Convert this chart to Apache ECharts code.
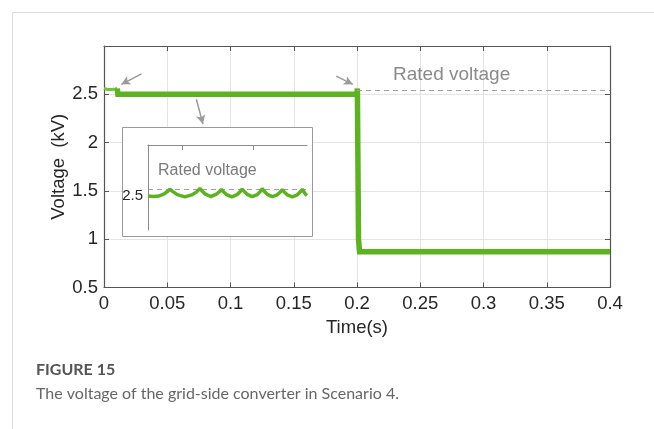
<!DOCTYPE html>
<html>
<head>
<meta charset="utf-8">
<script src="https://cdn.jsdelivr.net/npm/echarts@6/dist/echarts.min.js"></script>
<style>
  html, body { margin: 0; padding: 0; background: #fff; }
  #chart { width: 654px; height: 429px; }
</style>
</head>
<body>
<div id="chart"></div>
<script>
// Grid-side converter voltage, Scenario 4 (time in s, voltage in kV)
const xTicks = [0, 0.05, 0.1, 0.15, 0.2, 0.25, 0.3, 0.35, 0.4];
const yTicks = [0.5, 1, 1.5, 2, 2.5];

// start-up segment before the converter settles
const startTime = [0, 0.003, 0.006, 0.009, 0.0105];
const startVolt = [2.56, 2.55, 2.55, 2.555, 2.56];

// steady operation, then the voltage drop at t = 0.2 s
const mainTime = [0.0105, 0.011, 0.2, 0.2003, 0.2012, 0.202, 0.4];
const mainVolt = [2.56, 2.50, 2.50, 2.56, 1.0, 0.87, 0.87];

const ratedVoltage = 2.54;

// zoomed ripple of the steady voltage (inset)
const insetTime = [
  0.525, 0.60, 0.68, 0.75, 0.80, 0.83,
  0.872, 0.935, 1.04, 1.145, 1.208, 1.25,
  1.28, 1.325, 1.40, 1.475, 1.52, 1.55,
  1.579, 1.622, 1.695, 1.768, 1.811, 1.84,
  1.868, 1.91, 1.98, 2.05, 2.092, 2.12,
  2.148, 2.19, 2.26, 2.33, 2.372, 2.40,
  2.428, 2.47, 2.54, 2.61, 2.652, 2.68,
  2.70, 2.72, 2.745
];
const insetVolt = [
  2.500, 2.497, 2.500, 2.512, 2.528, 2.540,
  2.526, 2.508, 2.495, 2.508, 2.526, 2.545,
  2.529, 2.511, 2.497, 2.509, 2.525, 2.538,
  2.525, 2.508, 2.495, 2.508, 2.525, 2.540,
  2.527, 2.510, 2.496, 2.508, 2.526, 2.543,
  2.528, 2.510, 2.496, 2.507, 2.524, 2.537,
  2.524, 2.507, 2.495, 2.507, 2.525, 2.539,
  2.527, 2.512, 2.503
];

const green = '#5bb31f';
const axisColor = '#555';
const gridColor = '#e4e4e4';
const labelFont = { fontFamily: 'Liberation Sans', fontSize: 18.5, color: '#262626' };
const nameFont = { fontFamily: 'Liberation Sans', fontSize: 18.5, color: '#262626' };

const zip = (xs, ys) => xs.map((x, i) => [x, ys[i]]);

const arrows = [
  [[0.0296, 2.711], [0.0137, 2.603]],
  [[0.073, 2.449], [0.0782, 2.192]],
  [[0.1836, 2.688], [0.1967, 2.603]]
];

const chart = echarts.init(document.getElementById('chart'), null, { renderer: 'canvas' });

chart.setOption({
  animation: false,
  backgroundColor: '#fff',
  grid: [
    { left: 104, top: 46, width: 506, height: 241.5 },
    { left: 148, top: 145, width: 159, height: 85, z: 10 }
  ],
  xAxis: [
    {
      gridIndex: 0, type: 'value', min: 0, max: 0.4, interval: 0.05,
      position: 'bottom',
      name: 'Time(s)', nameLocation: 'middle', nameGap: 28,
      nameTextStyle: nameFont,
      axisLine: { show: true, onZero: false, lineStyle: { color: axisColor, width: 1.2 } },
      axisTick: { show: true, inside: true, length: 5, lineStyle: { color: axisColor } },
      axisLabel: Object.assign({ margin: 7, customValues: xTicks }, labelFont),
      splitLine: { show: true, lineStyle: { color: gridColor, width: 1 } }
    },
    {
      gridIndex: 0, type: 'value', min: 0, max: 0.4, interval: 0.05,
      position: 'top',
      axisLine: { show: true, onZero: false, lineStyle: { color: axisColor, width: 1.2 } },
      axisTick: { show: true, inside: true, length: 5, lineStyle: { color: axisColor } },
      axisLabel: { show: false },
      splitLine: { show: false }
    },
    {
      gridIndex: 1, type: 'value', min: 0.525, max: 2.745,
      position: 'top', z: 10,
      axisLine: { show: true, onZero: false, lineStyle: { color: '#8a8a8a', width: 1 } },
      axisTick: { show: true, inside: true, length: 5, customValues: [1, 2], lineStyle: { color: '#8a8a8a' } },
      axisLabel: { show: false },
      splitLine: { show: false }
    }
  ],
  yAxis: [
    {
      gridIndex: 0, type: 'value', min: 0.5, max: 3, interval: 0.5,
      position: 'left',
      name: 'Voltage  (kV)', nameLocation: 'middle', nameGap: 36, nameRotate: 90,
      nameMoveOverlap: false,
      nameTextStyle: nameFont,
      axisLine: { show: true, onZero: false, lineStyle: { color: axisColor, width: 1.2 } },
      axisTick: { show: true, inside: true, length: 5, lineStyle: { color: axisColor } },
      axisLabel: Object.assign({ margin: 6, customValues: yTicks }, labelFont),
      splitLine: { show: true, lineStyle: { color: gridColor, width: 1 } }
    },
    {
      gridIndex: 0, type: 'value', min: 0.5, max: 3, interval: 0.5,
      position: 'right',
      axisLine: { show: true, onZero: false, lineStyle: { color: axisColor, width: 1.2 } },
      axisTick: { show: true, inside: true, length: 5, lineStyle: { color: axisColor } },
      axisLabel: { show: false },
      splitLine: { show: false }
    },
    {
      gridIndex: 1, type: 'value', min: 2.3, max: 2.8,
      position: 'left', z: 10,
      axisLine: { show: true, onZero: false, lineStyle: { color: '#8a8a8a', width: 1 } },
      axisTick: { show: false },
      axisLabel: { show: true, customValues: [2.5], margin: 5, fontFamily: 'Liberation Sans', fontSize: 15, color: '#262626' },
      splitLine: { show: false }
    }
  ],
  series: [
    {
      type: 'line', xAxisIndex: 0, yAxisIndex: 0,
      data: zip(startTime, startVolt),
      showSymbol: false, z: 3,
      lineStyle: { color: '#74c23c', width: 3 }
    },
    {
      type: 'line', xAxisIndex: 0, yAxisIndex: 0,
      data: zip(mainTime, mainVolt),
      showSymbol: false, z: 3,
      lineStyle: { color: green, width: 5.5, join: 'miter' },
      markLine: {
        silent: true, animation: false,
        label: { show: false },
        data: [
          [
            { coord: [0.2, ratedVoltage], symbol: 'none', lineStyle: { color: '#a0a0a0', type: [5, 4], width: 1.2 } },
            { coord: [0.4, ratedVoltage], symbol: 'none' }
          ]
        ].concat(arrows.map(a => [
          { coord: a[0], symbol: 'none', lineStyle: { color: '#9a9a9a', type: 'solid', width: 1.5 } },
          { coord: a[1], symbol: 'arrow', symbolSize: [7, 9] }
        ]))
      }
    },
    {
      type: 'line', xAxisIndex: 2, yAxisIndex: 2,
      data: zip(insetTime, insetVolt),
      showSymbol: false, z: 12,
      lineStyle: { color: green, width: 3.5 },
      markLine: {
        silent: true, animation: false, symbol: 'none',
        label: { show: false },
        lineStyle: { color: '#a0a0a0', type: [5, 4], width: 1.2 },
        data: [{ yAxis: ratedVoltage }]
      }
    }
  ],
  graphic: [
    // page frame
    { type: 'line', z: 1, shape: { x1: 12.5, y1: 12.5, x2: 654, y2: 12.5 }, style: { stroke: '#dcdcdc', lineWidth: 1 } },
    { type: 'line', z: 1, shape: { x1: 12.5, y1: 12.5, x2: 12.5, y2: 429 }, style: { stroke: '#dcdcdc', lineWidth: 1 } },
    // inset frame
    { type: 'rect', z: 5, shape: { x: 122.5, y: 127.5, width: 190, height: 109 }, style: { fill: '#fff', stroke: '#9a9a9a', lineWidth: 1 } },
    { type: 'text', z: 20, x: 158, y: 163, style: { text: 'Rated voltage', fontFamily: 'Liberation Sans', fontSize: 16, fill: '#7a7a7a' } },
    { type: 'text', z: 20, x: 393, y: 65, style: { text: 'Rated voltage', fontFamily: 'Liberation Sans', fontSize: 19, fill: '#8a8a8a' } },
    // caption
    { type: 'text', z: 20, x: 36, y: 362, style: { text: 'FIGURE 15', fontFamily: 'Lato', fontWeight: 'bold', fontSize: 16, fill: '#555' } },
    { type: 'text', z: 20, x: 36, y: 386, style: { text: 'The voltage of the grid-side converter in Scenario 4.', fontFamily: 'Lato', fontSize: 16, fill: '#666' } }
  ]
});
</script>
</body>
</html>
